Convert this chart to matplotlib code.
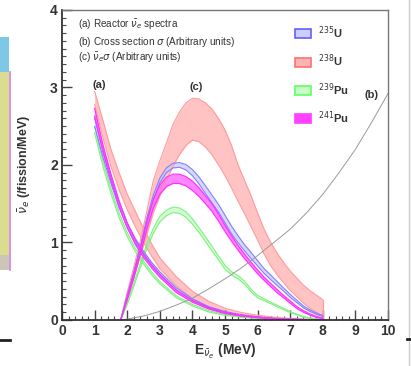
import numpy as np
import matplotlib
matplotlib.use("Agg")
import matplotlib.pyplot as plt
from matplotlib.patches import Patch, Rectangle
from matplotlib.lines import Line2D
from matplotlib.ticker import MultipleLocator

plt.rcParams['font.family'] = ['Liberation Sans', 'DejaVu Sans']

############ (a) reactor antineutrino spectra ############
E_a = [1.0, 1.25, 1.5, 1.75, 2.0, 2.25, 2.5, 2.75, 3.0, 3.5, 4.0, 4.5, 5.0, 5.5, 6.0, 6.5, 7.0, 7.5, 8.0]
u235_a = [2.55, 2.15, 1.8, 1.48, 1.22, 1.02, 0.86, 0.72, 0.6, 0.4, 0.26, 0.16, 0.1, 0.06, 0.035, 0.018, 0.009, 0.004, 0.001]
u235_a_err = [0.05, 0.045, 0.04, 0.035, 0.03, 0.028, 0.025, 0.022, 0.02, 0.016, 0.012, 0.01, 0.008, 0.006, 0.004, 0.003, 0.002, 0.001, 0.001]
pu241_a = [2.68, 2.22, 1.84, 1.5, 1.22, 1.0, 0.83, 0.69, 0.57, 0.37, 0.24, 0.15, 0.09, 0.055, 0.032, 0.016, 0.008, 0.003, 0.001]
pu241_a_err = [0.05, 0.045, 0.04, 0.035, 0.03, 0.028, 0.025, 0.022, 0.02, 0.016, 0.012, 0.01, 0.008, 0.006, 0.004, 0.003, 0.002, 0.001, 0.001]
pu239_a = [2.45, 2.02, 1.66, 1.35, 1.1, 0.9, 0.74, 0.6, 0.48, 0.3, 0.19, 0.11, 0.065, 0.038, 0.02, 0.01, 0.005, 0.002, 0.0]
pu239_a_err = [0.04, 0.035, 0.03, 0.03, 0.025, 0.022, 0.02, 0.018, 0.015, 0.012, 0.01, 0.008, 0.006, 0.004, 0.003, 0.002, 0.001, 0.001, 0.0]
u238_a_lo = [2.78, 2.36, 1.98, 1.68, 1.42, 1.2, 1.0, 0.82, 0.66, 0.44, 0.27, 0.17, 0.1, 0.06, 0.035, 0.018, 0.009, 0.004, 0.0]
u238_a_hi = [2.95, 2.58, 2.2, 1.9, 1.62, 1.4, 1.18, 0.98, 0.8, 0.56, 0.37, 0.24, 0.15, 0.095, 0.06, 0.035, 0.018, 0.008, 0.003]

############ (b) IBD cross section ############
E_b = [1.8, 2.0, 2.5, 3.0, 3.5, 4.0, 4.5, 5.0, 5.5, 6.0, 6.5, 7.0, 7.5, 8.0, 8.5, 9.0, 9.5, 10.0]
sigma_b = [0, 0.01, 0.05, 0.11, 0.19, 0.28, 0.4, 0.53, 0.67, 0.83, 1.0, 1.17, 1.38, 1.62, 1.9, 2.2, 2.55, 2.92]

############ (c) detected spectra ############
E_c = [1.8, 2.0, 2.2, 2.4, 2.6, 2.8, 3.0, 3.2, 3.4, 3.6, 3.8, 4.0, 4.2, 4.4, 4.6, 4.8,
       5.0, 5.2, 5.4, 5.6, 5.8, 6.0, 6.2, 6.4, 6.6, 6.8, 7.0, 7.2, 7.4, 7.6, 7.8, 8.0]
u235_c = [0, 0.3, 0.6, 0.92, 1.28, 1.58, 1.8, 1.93, 1.99, 2.0, 1.97, 1.9, 1.8, 1.68, 1.56, 1.44,
          1.3, 1.16, 1.04, 0.93, 0.83, 0.73, 0.63, 0.55, 0.47, 0.39, 0.31, 0.24, 0.17, 0.12, 0.08, 0.05]
u235_c_err = [0, 0.02, 0.02, 0.025, 0.03, 0.03, 0.03, 0.03, 0.03, 0.03, 0.035, 0.04, 0.045, 0.05, 0.05, 0.05,
              0.05, 0.05, 0.045, 0.04, 0.04, 0.035, 0.03, 0.03, 0.025, 0.02, 0.02, 0.015, 0.012, 0.01, 0.008, 0.006]
pu241_c = [0, 0.28, 0.57, 0.88, 1.22, 1.5, 1.68, 1.78, 1.82, 1.82, 1.79, 1.73, 1.65, 1.55, 1.45, 1.32,
           1.18, 1.05, 0.93, 0.82, 0.72, 0.62, 0.53, 0.45, 0.37, 0.3, 0.23, 0.16, 0.11, 0.07, 0.04, 0.02]
pu241_c_err = [0, 0.02, 0.03, 0.04, 0.05, 0.055, 0.06, 0.06, 0.06, 0.06, 0.06, 0.06, 0.055, 0.05, 0.05, 0.045,
               0.04, 0.035, 0.03, 0.03, 0.025, 0.025, 0.02, 0.02, 0.02, 0.015, 0.015, 0.012, 0.01, 0.008, 0.006, 0.005]
pu239_c = [0, 0.22, 0.45, 0.7, 0.95, 1.15, 1.3, 1.38, 1.42, 1.41, 1.36, 1.27, 1.16, 1.04, 0.92, 0.8,
           0.68, 0.6, 0.55, 0.48, 0.38, 0.3, 0.26, 0.22, 0.18, 0.14, 0.1, 0.07, 0.04, 0.025, 0.012, 0.005]
pu239_c_err = [0, 0.02, 0.02, 0.025, 0.03, 0.03, 0.035, 0.035, 0.035, 0.035, 0.035, 0.035, 0.03, 0.03, 0.03, 0.025,
               0.025, 0.02, 0.02, 0.02, 0.015, 0.015, 0.012, 0.01, 0.01, 0.008, 0.006, 0.005, 0.004, 0.003, 0.002, 0.001]
u238_c_lo = [0, 0.28, 0.55, 0.82, 1.1, 1.38, 1.6, 1.8, 1.98, 2.13, 2.25, 2.32, 2.3, 2.23, 2.13, 2.0,
             1.86, 1.7, 1.53, 1.37, 1.2, 1.03, 0.85, 0.7, 0.58, 0.48, 0.38, 0.3, 0.22, 0.15, 0.1, 0.05]
u238_c_hi = [0, 0.36, 0.68, 1.02, 1.4, 1.8, 2.05, 2.28, 2.52, 2.68, 2.8, 2.86, 2.85, 2.8, 2.72, 2.6,
             2.45, 2.25, 2.0, 1.8, 1.6, 1.38, 1.17, 1.0, 0.86, 0.74, 0.63, 0.54, 0.45, 0.38, 0.32, 0.26]

iso_labels = ['$^{235}$U', '$^{238}$U', '$^{239}$Pu', '$^{241}$Pu']

fig = plt.figure(figsize=(4.11, 3.66), dpi=100)
ax = fig.add_axes([0.151, 0.126, 0.793, 0.847])


def band(x, lo, hi, edge, fill, alpha=1.0, lw=0.8):
    ax.fill_between(x, lo, hi, color=fill, alpha=alpha, lw=0)
    ax.plot(x, lo, color=edge, lw=lw)
    ax.plot(x, hi, color=edge, lw=lw)


def band_err(x, y, err, edge, fill, alpha=1.0, lw=0.8):
    y = np.array(y)
    err = np.array(err)
    band(x, y - err, y + err, edge, fill, alpha, lw)


red_e, red_f = '#ff9a9a', '#ffb4b4'
blue_e, blue_f = '#8080ff', '#cdcdff'
green_e, green_f = '#80f080', '#c8ffc8'
mag_e, mag_f = '#ff33ff', '#ff66ff'

# 238U bands
band(E_a, u238_a_lo, u238_a_hi, red_e, red_f, 0.8)
band(E_c, u238_c_lo, u238_c_hi, red_e, red_f, 0.8)
ax.plot([8.0, 8.0], [0, u238_c_hi[-1]], color=red_e, lw=0.8)

# 239Pu
band_err(E_a, pu239_a, pu239_a_err, green_e, green_f, 0.8)
band_err(E_c, pu239_c, pu239_c_err, green_e, green_f, 0.8)

# 235U
band_err(E_a, u235_a, u235_a_err, blue_e, blue_f, 0.8)
band_err(E_c, u235_c, u235_c_err, blue_e, blue_f, 0.8)

# 241Pu
band_err(E_a, pu241_a, pu241_a_err, mag_e, mag_f, 0.8, 0.9)
band_err(E_c, pu241_c, pu241_c_err, mag_e, mag_f, 0.8, 0.9)

# cross section
ax.plot(E_b, sigma_b, color='#9a9a9a', lw=0.7)

ax.set_xlim(0, 10)
ax.set_ylim(0, 4)
ax.xaxis.set_major_locator(MultipleLocator(1))
ax.xaxis.set_minor_locator(MultipleLocator(0.2))
ax.yaxis.set_major_locator(MultipleLocator(1))
ax.yaxis.set_minor_locator(MultipleLocator(0.1))
ax.tick_params(which='both', direction='in', top=False, right=False, color='#444444')
ax.tick_params(which='major', length=7, width=1)
ax.tick_params(which='minor', length=3, width=0.8)
ax.tick_params(axis='both', labelsize=10, pad=3)
for lab in ax.get_xticklabels() + ax.get_yticklabels():
    lab.set_fontweight('bold')
    lab.set_color('#333333')
for s in ['left', 'bottom']:
    ax.spines[s].set_color('#333333')
    ax.spines[s].set_linewidth(1.3)
for s in ['top', 'right']:
    ax.spines[s].set_color('#777777')
    ax.spines[s].set_linewidth(1.0)

ax.set_xlabel(r'E$_{\bar{\nu}_e}$ (MeV)', fontsize=10, fontweight='bold', color='#333333', labelpad=3)
ax.set_ylabel(r'$\bar{\nu}_e$ (/fission/MeV)', fontsize=9, fontweight='bold', color='#333333', labelpad=12)

tx = dict(transform=ax.transAxes, fontsize=7.2, color='#333333', ha='left', va='center')
ax.text(0.05, 0.952, r'(a) Reactor $\bar{\nu}_e$ spectra', **tx)
ax.text(0.05, 0.897, r'(b) Cross section $\sigma$ (Arbitrary units)', **tx)
ax.text(0.05, 0.845, r'(c) $\bar{\nu}_e\sigma$ (Arbitrary units)', **tx)

lab = dict(fontsize=8, fontweight='bold', color='#333333', ha='center', va='center')
ax.text(1.15, 3.03, '(a)', **lab)
ax.text(4.1, 3.0, '(c)', **lab)
ax.text(9.5, 2.9, '(b)', **lab)

handles = [Patch(facecolor=blue_f, edgecolor='#6060ff', lw=1.2),
           Patch(facecolor=red_f, edgecolor='#ff7070', lw=1.2),
           Patch(facecolor=green_f, edgecolor='#60ff60', lw=1.2),
           Patch(facecolor='#ff40ff', edgecolor='#ff40ff', lw=1.2)]
leg = ax.legend(handles, iso_labels, loc='upper left', bbox_to_anchor=(0.685, 0.985),
                frameon=False, fontsize=8, handlelength=1.4, handleheight=0.85,
                labelspacing=1.05, handletextpad=0.6)
for t in leg.get_texts():
    t.set_fontweight('bold')
    t.set_color('#333333')

# pieces of neighbouring panels at the figure edges
fig.add_artist(Rectangle((0, 1 - 72 / 366), 9 / 411, 35 / 366, transform=fig.transFigure,
                         facecolor='#7cc8e6', edgecolor='none'))
fig.add_artist(Rectangle((0, 1 - 255 / 366), 9 / 411, 183 / 366, transform=fig.transFigure,
                         facecolor='#dcdc90', edgecolor='none'))
fig.add_artist(Rectangle((0, 1 - 270 / 366), 9 / 411, 15 / 366, transform=fig.transFigure,
                         facecolor='#cdc6b8', edgecolor='none'))
fig.add_artist(Line2D([9.5 / 411, 9.5 / 411], [1 - 270 / 366, 1 - 72 / 366], transform=fig.transFigure,
                      color='#d080d8', lw=1.2))
fig.add_artist(Line2D([0, 10 / 411], [1 - 340 / 366] * 2, transform=fig.transFigure,
                      color='#222222', lw=2))
fig.add_artist(Line2D([408.5 / 411] * 2, [0, 1], transform=fig.transFigure,
                      color='#cccccc', lw=1))
fig.add_artist(Line2D([407 / 411, 1], [1 - 339 / 366] * 2, transform=fig.transFigure,
                      color='#222222', lw=2))

fig.savefig('out.png', dpi=100)
